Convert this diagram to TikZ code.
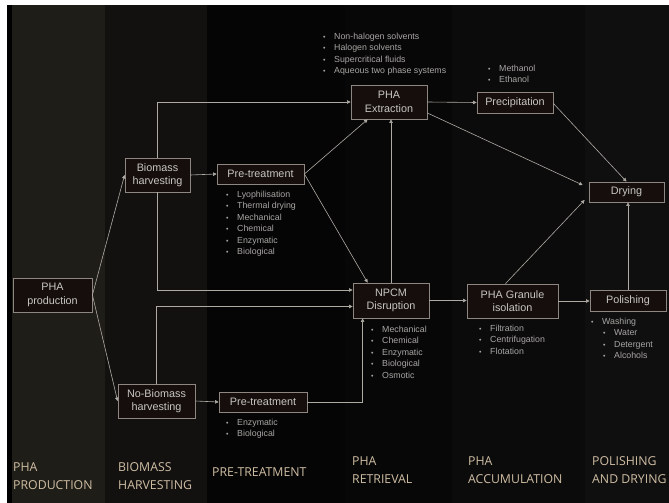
\documentclass[tikz,border=0pt]{standalone}
\usepackage{fontspec}
\setmainfont{Liberation Sans}
\newfontfamily\labelfont{Open Sans}
\usepackage{tikz}
\usetikzlibrary{calc,arrows.meta,positioning}
\usepackage{xcolor}
\definecolor{bandA}{HTML}{1F1D17}
\definecolor{bandB}{HTML}{121110}
\definecolor{bandC}{HTML}{050505}
\definecolor{bandD}{HTML}{070707}
\definecolor{bandE}{HTML}{0B0B0B}
\definecolor{bandF}{HTML}{0F0F0F}
\definecolor{boxfill}{HTML}{150E0C}
\definecolor{boxline}{HTML}{8E8680}
\definecolor{boxtext}{HTML}{C8C6C4}
\definecolor{listtext}{HTML}{A8A6A4}
\definecolor{wire}{HTML}{B0AAA4}
\definecolor{stagetext}{HTML}{D0BEA4}
\newcommand{\itm}{\makebox[11pt][l]{\scriptsize\textbullet}}
\tikzset{
    stepbox/.style={
        draw=boxline,
        fill=boxfill,
        line width=0.8pt,
        text=boxtext,
        font=\fontsize{10.8}{13.5}\selectfont,
        align=center,
        inner sep=0pt
    },
    flow/.style={
        -{Triangle[length=3.5pt,width=3.5pt]},
        line width=0.6pt,
        color=wire
    },
    itemlist/.style={
        anchor=north west,
        align=left,
        inner sep=0pt,
        text=listtext,
        font=\fontsize{8.8}{11.4}\selectfont
    },
    stagelabel/.style={
        anchor=base west,
        align=left,
        inner sep=0pt,
        text=stagetext,
        font=\labelfont\fontsize{12.3}{17.5}\selectfont
    }
}

\begin{document}
\begin{tikzpicture}[x=1pt,y=-1pt]

    % Background
    \fill[white] (0,0) rectangle (669,503);
    \fill[black] (7,5) rectangle (669,503);
    \fill[bandA] (12,5) rectangle (105,503);
    \fill[bandB] (105,5) rectangle (207,503);
    \fill[bandC] (207,5) rectangle (345,503);
    \fill[bandD] (345,5) rectangle (452,503);
    \fill[bandE] (452,5) rectangle (585,503);
    \fill[bandF] (585,5) rectangle (669,503);
    \useasboundingbox (0,0) rectangle (669,503);

    % Steps
    \node[stepbox,minimum width=79pt,minimum height=34pt]
        (prod) at (52.5,295) {PHA\\production};
    \node[stepbox,minimum width=65pt,minimum height=34pt]
        (bioharv) at (157.5,175) {Biomass\\harvesting};
    \node[stepbox,minimum width=77pt,minimum height=34pt]
        (nobio) at (156.5,401) {No-Biomass\\harvesting};
    \node[stepbox,minimum width=87pt,minimum height=20pt]
        (pretop) at (260.5,174) {Pre-treatment};
    \node[stepbox,minimum width=88pt,minimum height=20pt]
        (prebot) at (263,402) {Pre-treatment};
    \node[stepbox,minimum width=76pt,minimum height=34pt]
        (extr) at (389,102) {PHA\\Extraction};
    \node[stepbox,minimum width=76pt,minimum height=21pt]
        (precip) at (515,102.5) {Precipitation};
    \node[stepbox,minimum width=76pt,minimum height=35pt]
        (npcm) at (391,300.5) {NPCM\\Disruption};
    \node[stepbox,minimum width=91pt,minimum height=34pt]
        (gran) at (512.5,301) {PHA Granule\\isolation};
    \node[stepbox,minimum width=75pt,minimum height=20pt]
        (drying) at (626.5,192) {Drying};
    \node[stepbox,minimum width=76pt,minimum height=21pt]
        (polish) at (628,300.5) {Polishing};

    % Entry points
    \coordinate (npcmA) at ($(npcm.west)+(0,-10.5)$);
    \coordinate (npcmB) at ($(npcm.west)+(0,6)$);
    \coordinate (npcmC) at ($(npcm.south west)+(10,0)$);
    \coordinate (npcmD) at ($(npcm.north west)+(15,0)$);
    \coordinate (extrA) at ($(extr.south west)+(17,0)$);
    \coordinate (extrB) at ($(extr.east)+(0,11)$);
    \coordinate (precipA) at ($(precip.east)+(0,1)$);
    \coordinate (granA) at ($(gran.north)+(-7,0)$);
    \coordinate (dryA) at ($(drying.west)+(-6,-7)$);
    \coordinate (dryB) at ($(drying.west)+(-4,8)$);

    % Connectors
    \draw[flow] (prod.east) -- (bioharv.west);
    \draw[flow] (prod.east) -- (nobio.west);
    \draw[flow] (bioharv.east) -- (pretop.west);
    \draw[flow] (nobio.east) -- (prebot.west);
    \draw[flow] (bioharv.north) |- (extr.west);
    \draw[flow] (bioharv.south) |- (npcmA);
    \draw[flow] (nobio.north) |- (npcmB);
    \draw[flow] (prebot.east) -| (npcmC);
    \draw[flow] (pretop.east) -- (extrA);
    \draw[flow] (pretop.east) -- (npcmD);
    \draw[flow] (npcm.north) -- (npcm.north |- extr.south);
    \draw[flow] (extr.east) -- (precip.west);
    \draw[flow] (extrB) -- (dryA);
    \draw[flow] (precipA) -- (drying.north);
    \draw[flow] (npcm.east) -- (npcm.east -| gran.west);
    \draw[flow] (gran.east) -- (gran.east -| polish.west);
    \draw[flow] (granA) -- (dryB);
    \draw[flow] (polish.north) -- (polish.north |- drying.south);

    % Lists
    \node[itemlist] (solvlist) at (323,33)
        {\itm Non-halogen solvents\\\itm Halogen solvents\\
         \itm Supercritical fluids\\\itm Aqueous two phase systems};
    \node[itemlist] (alcolist) at (488,65)
        {\itm Methanol\\\itm Ethanol};
    \node[itemlist] (pretoplist) at (226,191)
        {\itm Lyophilisation\\\itm Thermal drying\\\itm Mechanical\\
         \itm Chemical\\\itm Enzymatic\\\itm Biological};
    \node[itemlist] (prebotlist) at (226,419)
        {\itm Enzymatic\\\itm Biological};
    \node[itemlist] (npcmlist) at (371,326)
        {\itm Mechanical\\\itm Chemical\\\itm Enzymatic\\
         \itm Biological\\\itm Osmotic};
    \node[itemlist] (granlist) at (479,325)
        {\itm Filtration\\\itm Centrifugation\\\itm Flotation};
    \node[itemlist] (polishlist) at (591,318)
        {\itm Washing\\\hspace{12pt}\itm Water\\
         \hspace{12pt}\itm Detergent\\\hspace{12pt}\itm Alcohols};

    % Stages
    \node[stagelabel] (stageA) at (13,489) {PHA\\PRODUCTION};
    \node[stagelabel] (stageB) at (118,489) {BIOMASS\\HARVESTING};
    \node[stagelabel] (stageC) at (212,476) {PRE-TREATMENT};
    \node[stagelabel] (stageD) at (352,483) {PHA\\RETRIEVAL};
    \node[stagelabel] (stageE) at (468,483) {PHA\\ACCUMULATION};
    \node[stagelabel] (stageF) at (592,483) {POLISHING\\AND DRYING};

\end{tikzpicture}
\end{document}
